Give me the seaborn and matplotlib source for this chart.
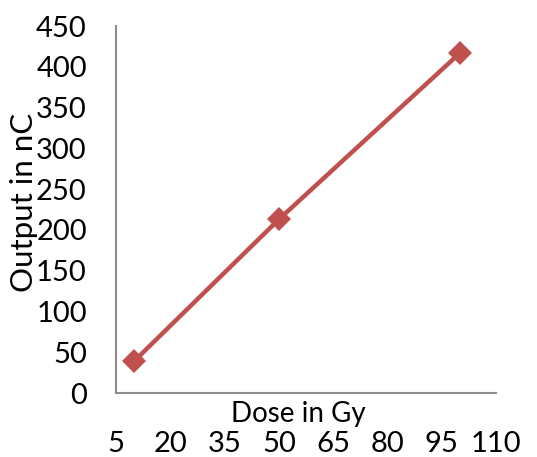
import matplotlib
matplotlib.use("Agg")
import matplotlib.pyplot as plt
import seaborn as sns

# values
dose = [10, 50, 100]
output = [39, 213, 417]
x_ticks = [5, 20, 35, 50, 65, 80, 95, 110]
y_ticks = [0, 50, 100, 150, 200, 250, 300, 350, 400, 450]

sns.set_style("white")
plt.rcParams['font.family'] = ['Lato', 'DejaVu Sans']
plt.rcParams['text.color'] = 'black'
plt.rcParams['xtick.color'] = 'black'
plt.rcParams['ytick.color'] = 'black'
plt.rcParams['axes.labelcolor'] = 'black'

fig = plt.figure(figsize=(5.37, 4.57), dpi=100)
ax = fig.add_axes([0.216, 0.140, 0.708, 0.803])

sns.lineplot(x=dose, y=output, ax=ax, color="#C0504D", linewidth=3.2,
             marker="D", markersize=12, markeredgewidth=0)

ax.set_xlim(5, 110)
ax.set_ylim(0, 450)
ax.set_xticks(x_ticks)
ax.set_yticks(y_ticks)
ax.tick_params(axis="x", length=0, pad=27, labelsize=21)
ax.tick_params(axis="y", length=0, pad=21, labelsize=21)

for side in ["top", "right"]:
    ax.spines[side].set_visible(False)
for side in ["left", "bottom"]:
    ax.spines[side].set_color("#8c8c8c")
    ax.spines[side].set_linewidth(1.5)

ax.set_xlabel("Dose in Gy", fontsize=20)
ax.set_ylabel("Output in nC", fontsize=22.5)
ax.xaxis.set_label_coords(0.48, -0.022)
ax.yaxis.set_label_coords(-0.205, 0.52)

fig.savefig("out.png", dpi=100)
